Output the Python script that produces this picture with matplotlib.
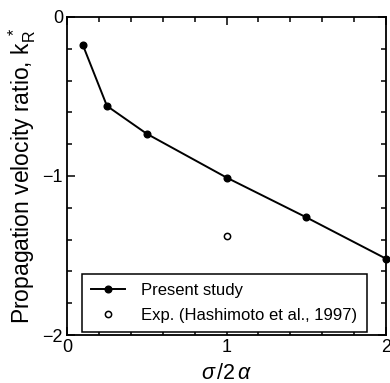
import numpy as np
import matplotlib
matplotlib.use("Agg")
import matplotlib.pyplot as plt
from matplotlib.ticker import MultipleLocator, FuncFormatter

plt.rcParams['font.family'] = ['Liberation Sans', 'DejaVu Sans']
plt.rcParams['mathtext.fontset'] = 'custom'
plt.rcParams['mathtext.rm'] = 'Liberation Sans'
plt.rcParams['mathtext.it'] = 'Liberation Sans:italic'

# present study (numerical)
sigma_ratio = [0.1, 0.25, 0.5, 1.0, 1.5, 2.0]
k_present = [-0.18, -0.56, -0.735, -1.01, -1.26, -1.52]
# experiment (Hashimoto et al., 1997)
sigma_exp = [1.0]
k_exp = [-1.38]

fig = plt.figure(figsize=(3.9, 3.83), dpi=100)
ax = fig.add_axes([0.172, 0.125, 0.818, 0.831])

ax.plot(sigma_ratio, k_present, 'k-', marker='o', ms=4.8, lw=1.4,
        label="Present study", clip_on=False, zorder=5)
ax.plot(sigma_exp, k_exp, 'o', mfc='white', mec='k', ms=4.5, mew=1.1,
        label="Exp. (Hashimoto et al., 1997)")

ax.set_xlim(0, 2)
ax.set_ylim(-2, 0)
ax.xaxis.set_major_locator(MultipleLocator(1))
ax.xaxis.set_minor_locator(MultipleLocator(0.2))
ax.yaxis.set_major_locator(MultipleLocator(1))
ax.yaxis.set_minor_locator(MultipleLocator(0.2))
ax.xaxis.set_major_formatter(FuncFormatter(lambda v, p: "%d" % v))
ax.yaxis.set_major_formatter(FuncFormatter(lambda v, p: "%d" % v if v == 0 else "\u2212%d" % abs(v)))
ax.tick_params(which='both', direction='in', top=True, right=True, labelsize=13, width=1.1)
ax.tick_params(which='major', length=6, pad=3)
ax.tick_params(which='minor', length=3.5)
for s in ax.spines.values():
    s.set_linewidth(1.3)

ax.set_xlabel(r"$\sigma\,/2\,\alpha$", fontsize=15.5, labelpad=5)
ax.set_ylabel(r"Propagation velocity ratio, k$_\mathrm{R}^{\ *}$", fontsize=16.5, labelpad=3)

leg = ax.legend(loc='lower left', bbox_to_anchor=(0.047, 0.01), borderaxespad=0,
                fontsize=12, frameon=True, fancybox=False, edgecolor='k',
                framealpha=1, handlelength=2.0, handletextpad=1.0,
                borderpad=0.55, labelspacing=0.6)
leg.get_frame().set_linewidth(1.1)

fig.savefig("out.png", dpi=100)
